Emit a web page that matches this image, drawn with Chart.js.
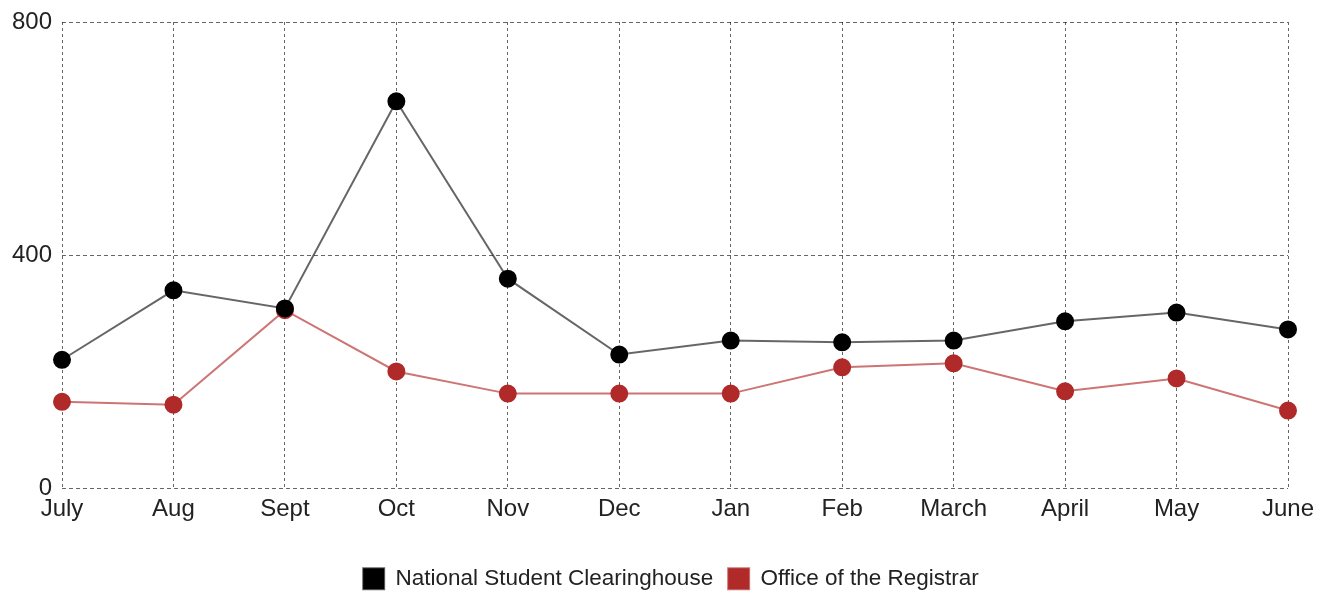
<!DOCTYPE html>
<html>
<head>
<meta charset="utf-8">
<script src="https://cdn.jsdelivr.net/npm/chart.js@4/dist/chart.umd.min.js"></script>
<style>
  html, body { margin: 0; padding: 0; background: #fff; }
  #wrap { width: 1327px; height: 592px; }
</style>
</head>
<body>
<div id="wrap"><canvas id="myLineChart"></canvas></div>
<script>
// dados
const months = ['July', 'Aug', 'Sept', 'Oct', 'Nov', 'Dec', 'Jan', 'Feb', 'March', 'April', 'May', 'June'];
const clearinghouse = [221, 340, 309, 664, 360, 230, 254, 251, 254, 287, 302, 273];
const registrar = [149, 144, 306, 201, 163, 163, 163, 208, 215, 167, 189, 134];
const yTicks = [0, 400, 800];

Chart.defaults.font.family = 'Arial, "Liberation Sans", sans-serif';
Chart.defaults.color = '#222';

// legenda: mais espaço entre os itens sem aumentar a altura, e centrada na área do gráfico
const legendShift = {
  id: 'legendShift',
  beforeInit(chart) {
    const fit = chart.legend.fit;
    chart.legend.fit = function() {
      fit.call(this);
      this.height -= 8;
    };
  },
  afterLayout(chart) {
    chart.legend.left += 27;
    chart.legend.right += 27;
  }
};

var ctx = document.getElementById('myLineChart').getContext('2d');
var myLineChart = new Chart(ctx, {
  type: 'line',
  data: {
    labels: months,
    datasets: [{
      label: 'National Student Clearinghouse',
      data: clearinghouse,
      borderColor: 'rgba(0, 0, 0, 0.6)',
      backgroundColor: '#000',
      pointBackgroundColor: '#000',
      pointBorderColor: '#000',
      borderWidth: 2,
      pointRadius: 8,
      pointHoverRadius: 8
    }, {
      label: 'Office of the Registrar',
      data: registrar,
      borderColor: 'rgba(178, 42, 42, 0.65)',
      backgroundColor: '#b02a2a',
      pointBackgroundColor: '#b02a2a',
      pointBorderColor: '#b02a2a',
      borderWidth: 2,
      pointRadius: 8,
      pointHoverRadius: 8
    }]
  },
  options: {
    responsive: true,
    maintainAspectRatio: false,
    animation: false,
    layout: {
      padding: { top: 6, right: 39, left: 0, bottom: 0 }
    },
    plugins: {
      legend: {
        position: 'bottom',
        labels: {
          boxWidth: 21,
          boxHeight: 21,
          padding: 15,
          font: { size: 22.5 },
          color: '#222'
        }
      },
      tooltip: { enabled: false }
    },
    scales: {
      x: {
        afterFit(scale) { scale.height += 23; },
        grid: {
          color: 'rgba(0, 0, 0, 0.6)',
          drawTicks: false
        },
        border: { display: false, dash: [3, 3] },
        ticks: {
          padding: 6,
          font: { size: 24 },
          maxRotation: 0,
          autoSkip: false
        }
      },
      y: {
        min: 0,
        max: 800,
        afterFit(scale) { scale.width = 62; },
        afterBuildTicks(scale) { scale.ticks = yTicks.map(v => ({ value: v })); },
        grid: {
          color: 'rgba(0, 0, 0, 0.6)',
          drawTicks: false
        },
        border: { display: false, dash: [4, 3] },
        ticks: {
          padding: 10,
          font: { size: 24, lineHeight: 1.0 }
        }
      }
    }
  },
  plugins: [legendShift]
});
</script>
</body>
</html>
